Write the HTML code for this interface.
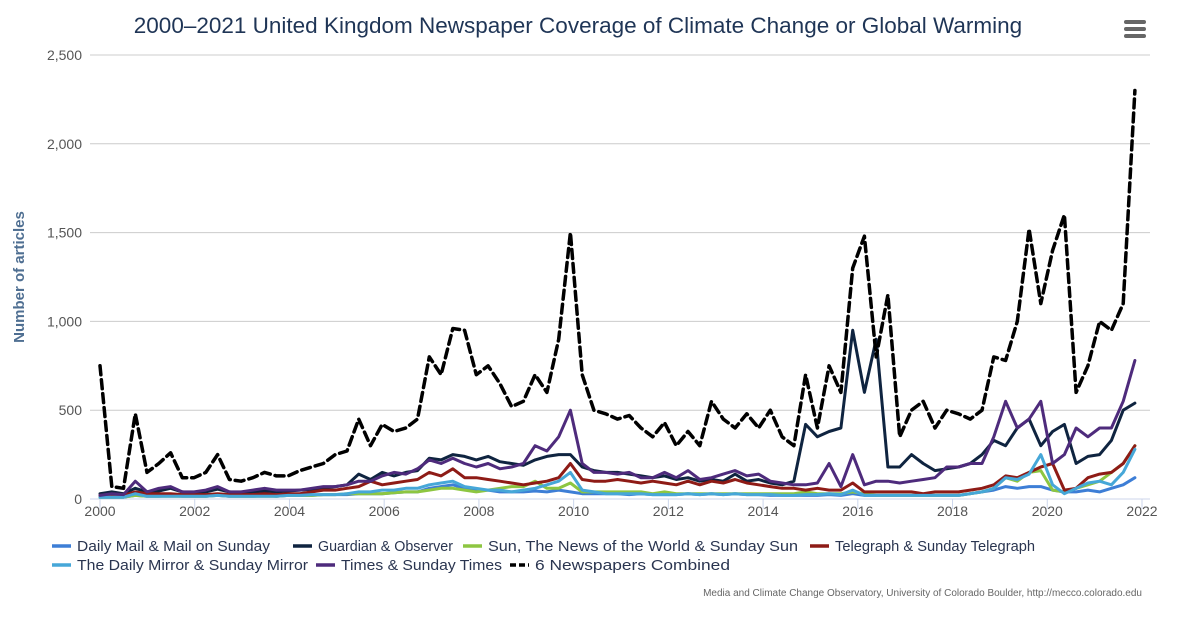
<!DOCTYPE html>
<html><head><meta charset="utf-8">
<style>
body{margin:0;background:#fff;font-family:"Liberation Sans",sans-serif;}
svg{display:block}
</style></head>
<body>
<svg id="chart" width="1200" height="624">
  <text x="578" y="33" text-anchor="middle" font-size="22.5" fill="#1f3556">2000–2021 United Kingdom Newspaper Coverage of Climate Change or Global Warming</text>
  <g>
    <rect x="1124" y="20" width="22" height="4" rx="2" fill="#666"/>
    <rect x="1124" y="27" width="22" height="4" rx="2" fill="#666"/>
    <rect x="1124" y="34" width="22" height="4" rx="2" fill="#666"/>
  </g>
  <text transform="translate(24,277) rotate(-90)" text-anchor="middle" font-size="15" font-weight="bold" fill="#4f6f92">Number of articles</text>
  <g id="grid"></g><g id="series"></g><g id="legend"></g>
  <text x="1142" y="596" text-anchor="end" font-size="10" fill="#666">Media and Climate Change Observatory, University of Colorado Boulder, http://mecco.colorado.edu</text>
</svg>
<script>
const yTicks=[0,500,1000,1500,2000,2500];
const xTicks=[2000,2002,2004,2006,2008,2010,2012,2014,2016,2018,2020,2022];
const seriesNames=["Daily Mail & Mail on Sunday","Guardian & Observer","Sun, The News of the World & Sunday Sun","Telegraph & Sunday Telegraph","The Daily Mirror & Sunday Mirror","Times & Sunday Times","6 Newspapers Combined"];
const mail=[10,10,10,20,15,15,20,15,15,15,20,15,15,15,20,15,20,20,20,25,25,25,30,30,30,35,40,40,60,70,80,60,50,50,40,40,40,45,40,50,40,30,30,30,30,25,30,25,25,25,30,25,30,25,30,25,25,20,20,20,20,20,25,20,30,20,20,20,20,20,20,20,20,20,30,40,50,70,60,70,70,50,40,40,50,40,60,80,120];
const guardian=[30,40,30,60,40,45,60,40,35,40,55,40,35,40,45,40,45,50,55,60,70,80,140,110,150,130,150,160,230,220,250,240,220,240,210,200,190,220,240,250,250,180,160,150,150,140,130,120,130,110,120,100,110,100,140,100,110,90,80,100,420,350,380,400,950,600,900,180,180,250,200,160,170,180,200,250,330,300,400,450,300,380,420,200,240,250,330,500,540];
const sun=[10,10,10,20,15,15,15,15,15,15,20,15,15,15,15,15,20,20,20,25,25,30,30,30,30,35,40,40,50,60,60,50,40,50,60,70,70,100,60,60,90,40,40,40,40,40,40,30,40,30,30,30,30,30,30,30,30,30,30,30,40,30,30,30,40,30,20,20,20,20,20,20,20,20,30,40,60,120,100,150,160,50,40,60,80,100,150,200,300];
const telegraph=[20,20,20,40,30,30,30,25,25,25,30,25,25,25,30,25,30,30,40,50,50,60,70,100,80,90,100,110,150,130,170,120,120,110,100,90,80,90,100,120,200,110,100,100,110,100,90,100,90,80,100,80,100,90,110,90,80,70,60,60,50,60,50,50,90,40,40,40,40,40,30,40,40,40,50,60,80,130,120,150,180,200,50,60,120,140,150,200,300];
const mirror=[10,10,10,30,15,15,15,15,15,15,20,15,15,15,15,15,20,20,25,25,25,30,40,40,50,50,60,60,80,90,100,70,60,50,50,40,50,60,80,100,150,50,40,30,30,30,30,25,25,25,30,25,30,25,30,25,25,25,20,20,25,25,30,25,50,20,20,20,20,20,20,20,20,20,30,40,60,120,110,140,250,80,30,60,90,100,80,150,280];
const times=[20,30,25,100,40,60,70,40,40,50,70,40,40,50,60,50,50,50,60,70,70,80,100,100,130,150,140,170,220,200,230,200,180,200,170,180,200,300,270,350,500,200,150,150,140,150,120,120,150,120,160,110,120,140,160,130,140,100,90,80,80,90,200,70,250,80,100,100,90,100,110,120,180,180,200,200,350,550,400,450,550,200,250,400,350,400,400,550,780];
const combined=[750,70,60,480,150,200,260,120,120,150,250,110,100,120,150,130,130,160,180,200,250,270,450,300,420,380,400,450,800,700,960,950,700,750,650,520,550,700,600,900,1500,700,500,480,450,470,400,350,430,300,380,300,550,450,400,480,400,500,350,300,700,400,750,600,1300,1480,800,1150,350,500,550,400,500,480,450,500,800,780,1000,1520,1100,1400,1600,600,750,1000,950,1100,2300];
const allSeries=[mail,guardian,sun,telegraph,mirror,times,combined];
const colors=["#3d7ed6","#0f2440","#8dc641","#8e1b16","#46a7d8","#4e2b7c","#000"];
const X0=100,X1=1142,Y0=499,Y1=55;
const xScale=t=>X0+(t-2000)/22*(X1-X0);
const yScale=v=>Y0-v/2500*(Y0-Y1);
const NS="http://www.w3.org/2000/svg";
function mk(tag,attrs,parent){const e=document.createElementNS(NS,tag);for(const k in attrs)e.setAttribute(k,attrs[k]);parent.appendChild(e);return e;}
const grid=document.getElementById('grid');
yTicks.forEach(v=>{
  const l=mk('line',{x1:90,x2:1150,y1:yScale(v),y2:yScale(v),stroke:v===0?'#ccd6eb':'#cccccc','stroke-width':1},grid);
  
  
  const t=mk('text',{x:82,y:yScale(v)+5,'text-anchor':'end','font-size':14,fill:'#555'},grid);
  t.textContent=v.toLocaleString('en-US');
  
  
});
xTicks.forEach(y=>{
  const l=mk('line',{x1:xScale(y),x2:xScale(y),y1:499,y2:509,stroke:'#ccd6eb'},grid);
  
  
  const t=mk('text',{x:xScale(y),y:516,'text-anchor':'middle','font-size':14,fill:'#555'},grid);
  t.textContent=y;
  
  
});
const sg=document.getElementById('series');
allSeries.forEach((arr,i)=>{
  const pts=arr.map((v,j)=>xScale(2000+j*0.2483).toFixed(1)+','+yScale(v).toFixed(1)).join(' ');
  const p=mk('polyline',{points:pts,fill:'none',stroke:colors[i],'stroke-width':i===6?3.5:3,'stroke-linejoin':'round','stroke-linecap':'round'},sg);
  if(i===6)p.setAttribute('stroke-dasharray','9,5');
  
  
});
const lg=document.getElementById('legend');
const legPos=[[52,546],[293,546],[463,546],[810,546],[52,565],[316,565],[510,565]];
const legW=[193,135,310,200,231,161,195];
seriesNames.forEach((n,i)=>{
  const g=mk('g',{},lg);
  
  
  const [x,y]=legPos[i];
  const l=mk('line',{x1:x,x2:x+19,y1:y,y2:y,stroke:colors[i],'stroke-width':3.5},g);
  if(i===6)l.setAttribute('stroke-dasharray','6,3');
  const t=mk('text',{x:x+25,y:y+5,'font-size':15,fill:'#2a3550',textLength:legW[i],lengthAdjust:'spacingAndGlyphs'},g);
  t.textContent=n;
});
</script>
</body></html>
